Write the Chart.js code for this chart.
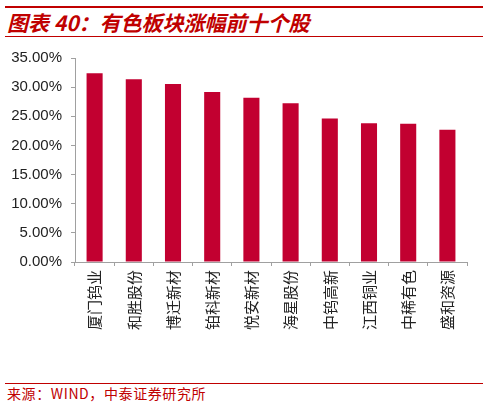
<!DOCTYPE html>
<html>
<head>
<meta charset="utf-8">
<script src="https://cdn.jsdelivr.net/npm/chart.js@4.4.0/dist/chart.umd.js"></script>
<style>
    html, body { margin: 0; padding: 0; background: #ffffff; }
    body { width: 488px; height: 406px; position: relative; overflow: hidden; }
    .top-rule { position: absolute; left: 5px; top: 6px; width: 478px; height: 2px; background: #c00000; }
    .title {
        position: absolute; left: 7px; top: 8px;
        font-family: "Noto Sans CJK SC", sans-serif; font-weight: bold; font-style: italic;
        font-size: 21px; color: #c00000; line-height: 28px; white-space: nowrap;
    }
    .title-rule { position: absolute; left: 5px; top: 36px; width: 478px; height: 1px; background: #c00000; }
    .chart-box { position: absolute; left: 0; top: 40px; width: 488px; height: 330px; }
    .source-rule { position: absolute; left: 5px; top: 383px; width: 478px; height: 1px; background: #c00000; }
    .source {
        position: absolute; left: 7px; top: 385px;
        font-family: "Noto Sans CJK SC", sans-serif; font-size: 14px; color: #c00000;
        letter-spacing: 0.6px; line-height: 17px; white-space: nowrap;
    }
</style>
</head>
<body>
<div class="top-rule"></div>
<div class="title">图表 40：有色板块涨幅前十个股</div>
<div class="title-rule"></div>
<div class="chart-box"><canvas id="chart"></canvas></div>
<div class="source-rule"></div>
<div class="source">来源：WIND，中泰证券研究所</div>

<script>
    // stocks and their gain (%)
    const stocks = ['厦门钨业', '和胜股份', '博迁新材', '铂科新材', '悦安新材', '海星股份', '中钨高新', '江西铜业', '中稀有色', '盛和资源'];
    const gains = [32.4, 31.35, 30.55, 29.15, 28.2, 27.25, 24.6, 23.8, 23.7, 22.7];
    const yTicks = [0, 5, 10, 15, 20, 25, 30, 35];

    const barColor = '#c20030';
    const axisColor = '#a0a0a0';

    const ctx = document.getElementById('chart').getContext('2d');
    new Chart(ctx, {
        type: 'bar',
        data: {
            labels: stocks,
            datasets: [{
                data: gains,
                backgroundColor: barColor,
                borderWidth: 0,
                barPercentage: 0.41,
                categoryPercentage: 1.0
            }]
        },
        options: {
            responsive: true,
            maintainAspectRatio: false,
            animation: false,
            layout: { padding: { top: 15, right: 21, bottom: 0, left: 0 } },
            plugins: {
                legend: { display: false },
                tooltip: { enabled: false }
            },
            scales: {
                x: {
                    grid: { drawOnChartArea: false, drawTicks: true, tickLength: 4, color: axisColor },
                    border: { color: axisColor },
                    ticks: {
                        minRotation: 90,
                        maxRotation: 90,
                        padding: 4,
                        color: '#222222',
                        font: { family: '"Noto Sans CJK SC", sans-serif', size: 15 }
                    },
                    afterFit: function(scale) { scale.height = 108; }
                },
                y: {
                    min: 0,
                    max: 35,
                    afterBuildTicks: function(scale) {
                        scale.ticks = yTicks.map(v => ({ value: v }));
                    },
                    grid: { drawOnChartArea: false, drawTicks: true, tickLength: 4, color: axisColor },
                    border: { color: axisColor },
                    ticks: {
                        padding: 9,
                        color: '#222222',
                        font: { family: '"Liberation Sans", Arial, sans-serif', size: 15 },
                        callback: function(value) { return value.toFixed(2) + '%'; }
                    },
                    afterFit: function(scale) { scale.width = 75; }
                }
            }
        }
    });
</script>
</body>
</html>
